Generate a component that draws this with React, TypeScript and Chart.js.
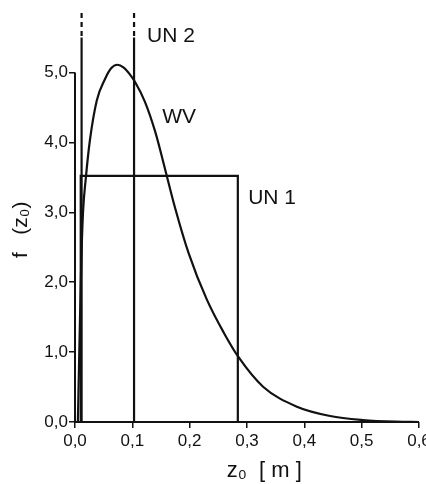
import React, { useEffect, useRef } from "react";
import { Chart, registerables } from "chart.js";

Chart.register(...registerables);

// Roughness length z0 [m] and the WV probability density f(z0)
const wvZ = [0.005, 0.008, 0.011, 0.014, 0.019, 0.026, 0.038, 0.052, 0.063, 0.074, 0.085, 0.095, 0.105, 0.122, 0.14, 0.157, 0.174, 0.198, 0.23, 0.26, 0.285, 0.328, 0.387, 0.445, 0.502, 0.56, 0.6];
const wvF = [0, 1.2, 2.3, 3.0, 3.5, 4.03, 4.6, 4.9, 5.06, 5.11, 5.07, 4.98, 4.86, 4.58, 4.15, 3.62, 3.08, 2.42, 1.75, 1.27, 0.93, 0.505, 0.219, 0.086, 0.029, 0.005, 0];

// UN 1: uniform density between two bounds
const un1Z = [0.01, 0.01, 0.284, 0.284];
const un1F = [0, 3.52, 3.52, 0];

// UN 2: two discrete spikes (drawn solid to the top, then dashed beyond)
const un2Z = [0.0115, 0.103];
const spikeSolidTop = 5.5;
const spikeDashTop = 5.85;

const xTicks = [0, 0.1, 0.2, 0.3, 0.4, 0.5, 0.6];
const yTicks = [0, 1, 2, 3, 4, 5];

// Curve labels, anchored in data coordinates (left edge, vertical middle)
const labelText = ["UN 2", "WV", "UN 1"];
const labelZ = [0.1256, 0.152, 0.302];
const labelF = [5.52, 4.36, 3.2];

const INK = "#111111";
const fmt = (v: number) => v.toFixed(1).replace(".", ",");
const tickFont = { family: "'Liberation Sans Narrow', 'Liberation Sans', Arial, sans-serif", size: 17 };

const axesAndLabels = {
  id: "axesAndLabels",
  afterDatasetsDraw(chart: any) {
    const { ctx, scales } = chart;
    const xs = scales.x;
    const ys = scales.y;
    ctx.save();
    ctx.strokeStyle = INK;
    ctx.lineWidth = 2;
    ctx.beginPath();
    ctx.moveTo(xs.getPixelForValue(0), ys.getPixelForValue(yTicks[yTicks.length - 1]));
    ctx.lineTo(xs.getPixelForValue(0), ys.getPixelForValue(0));
    ctx.lineTo(xs.getPixelForValue(xTicks[xTicks.length - 1]), ys.getPixelForValue(0));
    ctx.stroke();

    ctx.fillStyle = INK;
    ctx.font = "21px 'Liberation Sans', Arial, sans-serif";
    ctx.textAlign = "left";
    ctx.textBaseline = "middle";
    labelText.forEach((t, i) => {
      ctx.fillText(t, xs.getPixelForValue(labelZ[i]), ys.getPixelForValue(labelF[i]));
    });
    ctx.restore();
  },
};

export default function App() {
  const canvasRef = useRef<HTMLCanvasElement | null>(null);

  useEffect(() => {
    if (!canvasRef.current) return;
    const line = (data: { x: number; y: number | null }[], extra: any = {}) => ({
      data,
      borderColor: INK,
      borderWidth: 2.2,
      pointRadius: 0,
      fill: false,
      clip: false,
      tension: 0,
      ...extra,
    });

    const datasets: any[] = [
      line(
        wvZ.map((z, i) => ({ x: z, y: wvF[i] })),
        { cubicInterpolationMode: "monotone" }
      ),
      line(un1Z.map((z, i) => ({ x: z, y: un1F[i] }))),
      ...un2Z.map((z) => line([{ x: z, y: 0 }, { x: z, y: spikeSolidTop }])),
      ...un2Z.map((z) =>
        line([{ x: z, y: spikeDashTop }, { x: z, y: spikeSolidTop }], { borderDash: [5, 4] })
      ),
    ];

    const chart = new Chart(canvasRef.current, {
      type: "line",
      data: { datasets },
      options: {
        animation: false,
        responsive: false,
        events: [],
        layout: { padding: { top: 37.5, right: 16.6, bottom: 0, left: 0 } },
        plugins: { legend: { display: false }, tooltip: { enabled: false } },
        scales: {
          x: {
            type: "linear",
            min: 0,
            max: 0.66,
            afterBuildTicks: (s: any) => {
              s.ticks = xTicks.map((v) => ({ value: v }));
            },
            afterFit: (s: any) => {
              s.height = 62;
            },
            border: { display: false },
            grid: { drawOnChartArea: false, drawTicks: true, tickLength: 6, color: INK, lineWidth: 1.5 },
            ticks: { color: INK, font: tickFont, padding: 3, maxRotation: 0, callback: (v: any) => fmt(Number(v)) },
            title: {
              display: true,
              text: "z₀  [ m ]",
              color: INK,
              font: { family: "'Liberation Sans', Arial, sans-serif", size: 22 },
              padding: { top: 0, bottom: 0 },
            },
          },
          y: {
            type: "linear",
            min: 0,
            max: 5.5,
            afterBuildTicks: (s: any) => {
              s.ticks = yTicks.map((v) => ({ value: v }));
            },
            afterFit: (s: any) => {
              s.width = 75;
            },
            border: { display: false },
            grid: { drawOnChartArea: false, drawTicks: true, tickLength: 6, color: INK, lineWidth: 1.5 },
            ticks: { color: INK, font: tickFont, padding: 1, callback: (v: any) => fmt(Number(v)) },
            title: {
              display: true,
              text: "f   (z₀)",
              color: INK,
              font: { family: "'Liberation Sans', Arial, sans-serif", size: 21 },
              padding: { top: 9, bottom: 0 },
            },
          },
        },
      },
      plugins: [axesAndLabels],
    });
    return () => chart.destroy();
  }, []);

  return (
    <div
      style={{
        position: "fixed",
        left: 0,
        top: 0,
        width: 426,
        height: 484,
        overflow: "hidden",
        background: "#fff",
      }}
    >
      <canvas ref={canvasRef} width={470} height={484} />
    </div>
  );
}
